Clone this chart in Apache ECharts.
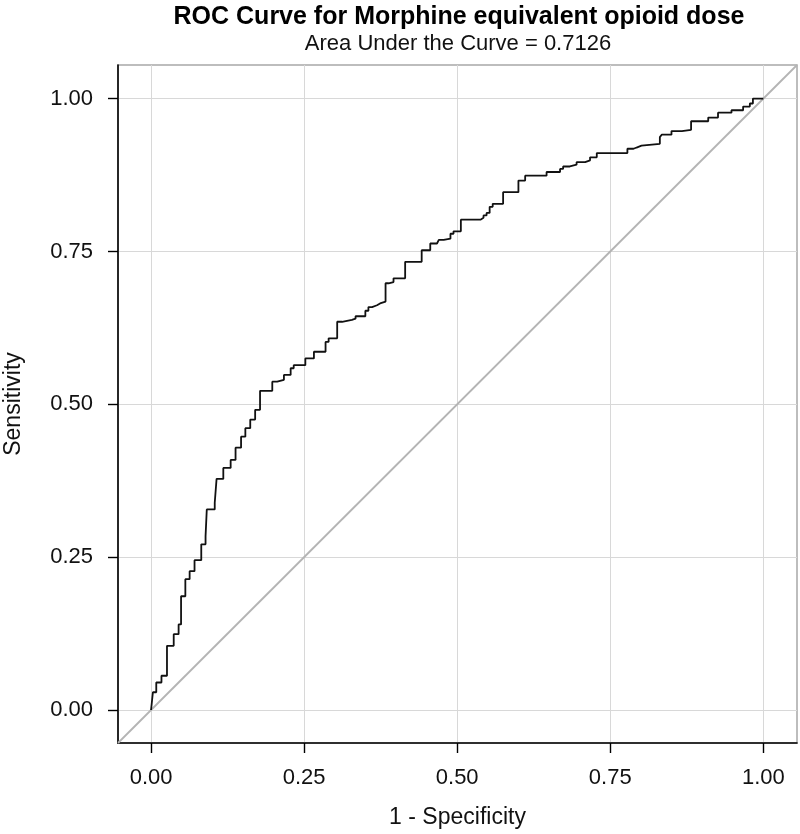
<!DOCTYPE html>
<html>
<head>
<meta charset="utf-8">
<script src="https://cdn.jsdelivr.net/npm/echarts@6/dist/echarts.min.js"></script>
<style>
  html, body { margin: 0; padding: 0; background: #ffffff; }
  #chart { width: 800px; height: 834px; }
</style>
</head>
<body>
<div id="chart"></div>
<script>
// ROC curve vertices: x = 1 - specificity, y = sensitivity (rise happens at each x)
var fpr = [0, 0.003, 0.0085, 0.017, 0.026, 0.037, 0.045, 0.049, 0.056, 0.063, 0.071,
  0.082, 0.089, 0.091, 0.104, 0.107, 0.118, 0.130, 0.138, 0.147, 0.154, 0.162, 0.170,
  0.178, 0.198, 0.206, 0.217, 0.228, 0.233, 0.252, 0.266, 0.285, 0.290, 0.304, 0.312,
  0.328, 0.334, 0.350, 0.355, 0.361, 0.369, 0.374, 0.383, 0.388, 0.396, 0.415, 0.442,
  0.456, 0.467, 0.470, 0.478, 0.489, 0.494, 0.506, 0.538, 0.543, 0.548, 0.553, 0.558,
  0.575, 0.600, 0.611, 0.646, 0.668, 0.673, 0.684, 0.695, 0.709, 0.717, 0.728, 0.778,
  0.788, 0.793, 0.801, 0.831, 0.834, 0.850, 0.867, 0.882, 0.910, 0.926, 0.948, 0.967,
  0.978, 0.983, 1.000]
var tpr = [0, 0.029, 0.045, 0.056, 0.105, 0.124, 0.140, 0.186, 0.214, 0.227, 0.245,
  0.271, 0.284, 0.328, 0.339, 0.378, 0.396, 0.409, 0.429, 0.447, 0.461, 0.475, 0.491,
  0.522, 0.537, 0.540, 0.548, 0.559, 0.564, 0.575, 0.586, 0.602, 0.608, 0.635, 0.638,
  0.640, 0.644, 0.653, 0.659, 0.662, 0.665, 0.668, 0.698, 0.700, 0.706, 0.733, 0.752,
  0.763, 0.766, 0.769, 0.771, 0.779, 0.783, 0.802, 0.805, 0.809, 0.813, 0.823, 0.828,
  0.847, 0.866, 0.874, 0.880, 0.885, 0.889, 0.892, 0.896, 0.899, 0.904, 0.911, 0.918,
  0.920, 0.923, 0.926, 0.937, 0.941, 0.947, 0.949, 0.963, 0.969, 0.977, 0.981, 0.987,
  0.992, 1.000, 1.000]
var ticks = [0, 0.25, 0.5, 0.75, 1]
var axisMin = -0.054
var axisMax = 1.055
var titleText = 'ROC Curve for Morphine equivalent opioid dose'
var subText = 'Area Under the Curve = 0.7126'

var font = "'Liberation Sans', Arial, sans-serif"

var rocData = fpr.map(function (x, i) { return [x, tpr[i]] })
var diagData = [[axisMin, axisMin], [axisMax, axisMax]]

function makeAxis (name, gap, isY) {
  return {
    type: 'value',
    min: axisMin,
    max: axisMax,
    name: name,
    nameLocation: 'middle',
    nameGap: gap,
    nameTextStyle: { fontFamily: font, fontSize: 23, color: '#111' },
    axisLine: { show: true, onZero: false, lineStyle: { color: '#000', width: 1.6 } },
    axisTick: { show: true, length: 10, customValues: ticks, lineStyle: { color: '#000', width: 1.4 } },
    axisLabel: {
      customValues: ticks,
      margin: isY ? 25 : 24,
      fontFamily: font,
      fontSize: 22,
      color: '#111',
      formatter: function (v) { return v.toFixed(2) }
    },
    splitLine: { show: true, lineStyle: { color: '#d8d8d8', width: 1 } }
  }
}

var chart = echarts.init(document.getElementById('chart'))
chart.setOption({
  backgroundColor: '#ffffff',
  animation: false,
  title: [{
    text: titleText,
    left: 454,
    top: 0,
    textAlign: 'center',
    textStyle: { fontFamily: font, fontSize: 25, fontWeight: 'bold', color: '#000' }
  }, {
    text: subText,
    left: 453,
    top: 28,
    textAlign: 'center',
    textStyle: { fontFamily: font, fontSize: 22, fontWeight: 'normal', color: '#111' }
  }],
  grid: {
    left: 118,
    right: 3,
    top: 65,
    bottom: 91,
    outerBoundsMode: 'none',
    show: true,
    borderColor: '#a8a8a8',
    borderWidth: 1.5
  },
  xAxis: makeAxis('1 - Specificity', 63, false),
  yAxis: makeAxis('Sensitivity', 93, true),
  series: [{
    type: 'line',
    data: diagData,
    symbol: 'none',
    lineStyle: { color: '#b4b4b4', width: 1.8 },
    z: 2
  }, {
    type: 'line',
    data: rocData,
    step: 'end',
    symbol: 'none',
    lineStyle: { color: '#111', width: 1.8 },
    z: 3
  }]
})
</script>
</body>
</html>
